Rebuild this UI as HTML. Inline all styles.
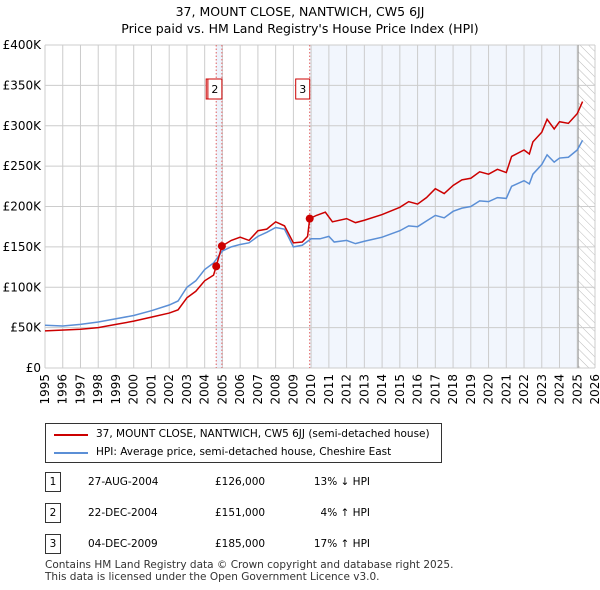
<!DOCTYPE html>
<html><head><meta charset="utf-8"><style>
body{margin:0;background:#fff;font-family:"DejaVu Sans","Liberation Sans",sans-serif;}
#w{position:relative;width:600px;height:590px;overflow:hidden}
.t{position:absolute;font-size:12px;color:#000;white-space:nowrap}
</style></head><body><div id="w">
<div class="t" style="left:0;width:600px;text-align:center;top:4px;font-size:12.5px">37, MOUNT CLOSE, NANTWICH, CW5 6JJ</div>
<div class="t" style="left:0;width:600px;text-align:center;top:21px;font-size:12.5px">Price paid vs. HM Land Registry's House Price Index (HPI)</div>
<svg id="c" width="600" height="420" style="position:absolute;left:0;top:0"></svg>
<div style="position:absolute;left:45px;top:423px;width:395px;height:38px;border:1px solid #333">
<div style="position:absolute;left:8px;top:10px;width:34px;height:2px;background:#cc0000"></div>
<div class="t" style="left:50px;top:4px;font-size:10.5px">37, MOUNT CLOSE, NANTWICH, CW5 6JJ (semi-detached house)</div>
<div style="position:absolute;left:8px;top:28px;width:34px;height:2px;background:#5b8fd6"></div>
<div class="t" style="left:50px;top:22px;font-size:10.5px">HPI: Average price, semi-detached house, Cheshire East</div>
</div>
<div id="tbl"></div>
<div class="t" style="left:45px;top:559px;font-size:10.5px;line-height:12px;color:#333">Contains HM Land Registry data © Crown copyright and database right 2025.<br>This data is licensed under the Open Government Licence v3.0.</div>
</div>
<script>
const hpiX=[1995,1996,1997,1998,1999,2000,2001,2002,2002.5,2003,2003.5,2004,2004.5,2005,2005.5,2006,2006.5,2007,2007.5,2008,2008.5,2009,2009.5,2010,2010.5,2011,2011.3,2012,2012.5,2013,2014,2015,2015.5,2016,2016.5,2017,2017.5,2018,2018.5,2019,2019.5,2020,2020.5,2021,2021.3,2022,2022.3,2022.5,2023,2023.3,2023.7,2024,2024.5,2025,2025.3];
const hpiY=[53,52,54,57,61,65,71,78,83,100,108,122,130,145,150,153,155,163,168,174,172,150,152,160,160,163,156,158,154,157,162,170,176,175,182,189,186,194,198,200,207,206,211,210,225,232,228,240,252,264,255,260,261,270,282];
const ppX=[1995,1997,1998,1999,2000,2001,2002,2002.5,2003,2003.5,2004,2004.5,2004.65,2004.97,2005.5,2006,2006.5,2007,2007.5,2008,2008.5,2009,2009.5,2009.8,2009.92,2010.3,2010.8,2011.2,2012,2012.5,2013,2014,2015,2015.5,2016,2016.5,2017,2017.5,2018,2018.5,2019,2019.5,2020,2020.5,2021,2021.3,2022,2022.3,2022.5,2023,2023.3,2023.7,2024,2024.5,2025,2025.3];
const ppY=[46,48,50,54,58,63,68,72,87,95,108,115,126,151,158,162,158,170,172,181,176,155,156,163,185,189,193,181,185,180,183,190,199,206,203,211,222,216,226,233,235,243,240,246,242,262,270,265,280,292,308,296,305,303,315,330];
const saleX=[2004.65,2004.97,2009.92];
const saleY=[126,151,185];
const saleLabels=["1","2","3"];
const saleDates=["27-AUG-2004","22-DEC-2004","04-DEC-2009"];
const salePrices=["£126,000","£151,000","£185,000"];
const saleHpi=["13% ↓ HPI","4% ↑ HPI","17% ↑ HPI"];
const yTicks=[0,50,100,150,200,250,300,350,400];
const yTickLabels=["£0","£50K","£100K","£150K","£200K","£250K","£300K","£350K","£400K"];
const x0=45,x1=595,y0=368,y1=45;
const X=v=>x0+(v-1995)*(x1-x0)/31, Y=v=>y0-(v)*(y0-y1)/400;
const s=document.getElementById('c'),NS="http://www.w3.org/2000/svg";
function e(t,a,n){const el=document.createElementNS(NS,t);for(const k in a)el.setAttribute(k,a[k]);
s.appendChild(el);return el;}
const defs=e('defs',{},'defs');
defs.innerHTML='<pattern id="h" width="6" height="6" patternUnits="userSpaceOnUse" patternTransform="rotate(-45)"><line x1="0" y1="0" x2="0" y2="6" stroke="#bbb" stroke-width="1"/></pattern>';
e('rect',{x:X(2009.92),y:y1,width:X(2025)-X(2009.92),height:y0-y1,fill:'#f2f6fd'},'future-shade');
e('rect',{x:X(2004.65),y:y1,width:X(2004.97)-X(2004.65),height:y0-y1,fill:'#eef3fc'},'sale-band');
e('rect',{x:X(2025.05),y:y1,width:x1-X(2025.05),height:y0-y1,fill:'url(#h)'},'hatch');
for(let yr=1995;yr<=2026;yr++){e('line',{x1:X(yr),x2:X(yr),y1:y1,y2:y0,stroke:'#ccc'},'x-grid');
const t=e('text',{x:X(yr)+4,y:y0+6,transform:`rotate(-90 ${X(yr)+4} ${y0+6})`,'text-anchor':'end','font-size':12,'font-family':'DejaVu Sans'},'x-tick-label');t.textContent=yr;}
yTicks.forEach((v,i)=>{e('line',{x1:x0,x2:x1,y1:Y(v),y2:Y(v),stroke:'#ccc'},'y-grid');
const t=e('text',{x:x0-4,y:Y(v)+4,'text-anchor':'end','font-size':12,'font-family':'DejaVu Sans'},'y-tick-label');t.textContent=yTickLabels[i];});
e('line',{x1:X(2025.05),x2:X(2025.05),y1:y1,y2:y0,stroke:'#999'},'data-end-line');
saleX.forEach(v=>e('line',{x1:X(v),x2:X(v),y1:y1,y2:y0,stroke:'#e06060','stroke-dasharray':'1.5,2'},'sale-vline'));
e('path',{d:hpiX.map((v,i)=>(i?'L':'M')+X(v)+','+Y(hpiY[i])).join(''),fill:'none',stroke:'#5b8fd6','stroke-width':1.5},'hpi-line');
e('path',{d:ppX.map((v,i)=>(i?'L':'M')+X(v)+','+Y(ppY[i])).join(''),fill:'none',stroke:'#cc0000','stroke-width':1.5},'price-line');
saleX.forEach((v,i)=>{e('circle',{cx:X(v),cy:Y(saleY[i]),r:4,fill:'#cc0000'},'sale-point');
const bx=i==0?X(v)-10:X(v)-14;e('rect',{x:bx,y:79,width:14,height:20,fill:'#fff',stroke:'#cc0000'},'sale-marker-box');
const t=e('text',{x:bx+7,y:93,'text-anchor':'middle','font-size':11,'font-family':'DejaVu Sans'},'sale-marker-label');t.textContent=saleLabels[i];});
let h='';saleDates.forEach((d,i)=>{const top=472+i*31;
h+=`<div><div class="t" style="left:45px;top:${top}px;width:14px;height:18px;border:1px solid #333;text-align:center;line-height:18px;font-size:10.5px">${saleLabels[i]}</div>
<div class="t" style="left:88px;top:${top+4}px;font-size:10.5px">${d}</div><div class="t" style="left:215px;top:${top+4}px;font-size:10.5px">${salePrices[i]}</div><div class="t" style="left:290px;width:80px;text-align:right;top:${top+4}px;font-size:10.5px">${saleHpi[i]}</div></div>`;});
document.getElementById('tbl').innerHTML=h;
</script></body></html>
